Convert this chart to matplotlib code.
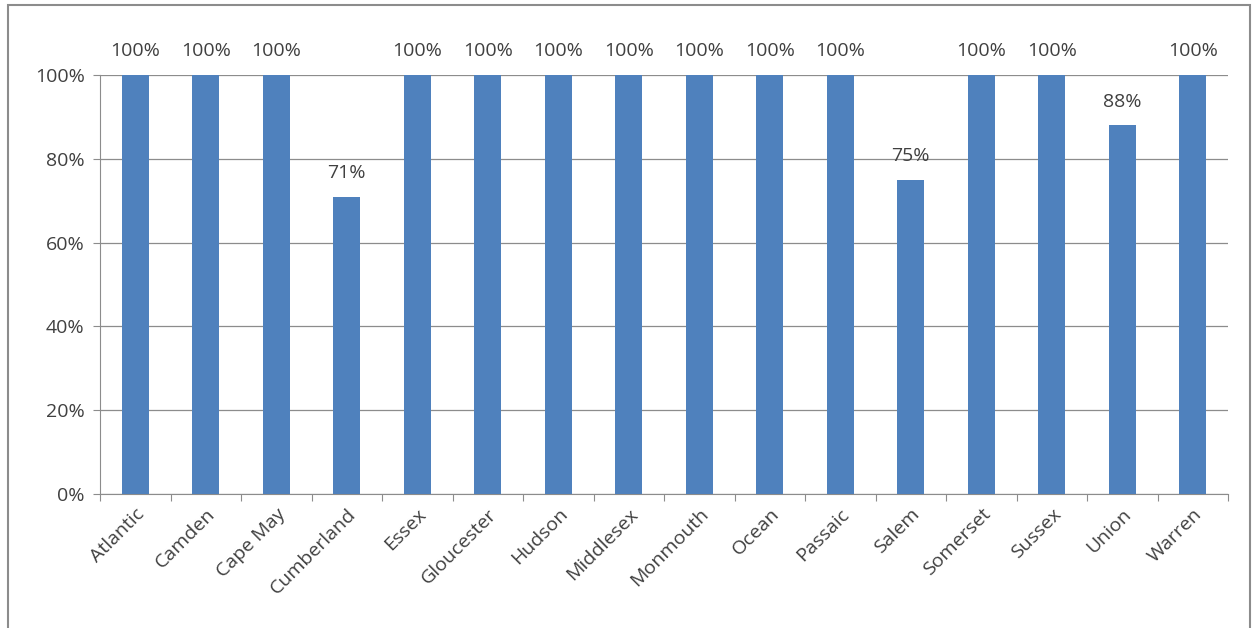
import matplotlib.pyplot as plt
from matplotlib.patches import Rectangle
from matplotlib.ticker import FuncFormatter

counties = ['Atlantic', 'Camden', 'Cape May', 'Cumberland', 'Essex', 'Gloucester',
            'Hudson', 'Middlesex', 'Monmouth', 'Ocean', 'Passaic', 'Salem',
            'Somerset', 'Sussex', 'Union', 'Warren']
pct = [100, 100, 100, 71, 100, 100, 100, 100, 100, 100, 100, 75, 100, 100, 88, 100]

plt.rcParams['font.family'] = ['Open Sans', 'DejaVu Sans']
txt = '#404040'

fig = plt.figure(figsize=(12.55, 6.28), dpi=100)
# outer chart frame
fig.patches.append(Rectangle((8 / 1255, -0.01), 1242 / 1255, 1 - 5 / 628 + 0.01,
                             transform=fig.transFigure, fill=False,
                             edgecolor='#8c8c8c', linewidth=1.5))

ax = fig.add_axes([100 / 1255, (628 - 494) / 628, 1128 / 1255, (494 - 75) / 628])
x = range(len(counties))
ax.bar(x, pct, width=0.38, color='#4F81BD', zorder=3)
for i, v in enumerate(pct):
    ax.text(i, v + 3.5, f'{v}%', ha='center', va='bottom', fontsize=14, color=txt)

ax.set_xlim(-0.5, len(counties) - 0.5)
ax.set_ylim(0, 100)
ax.set_yticks(range(0, 101, 20))
ax.yaxis.set_major_formatter(FuncFormatter(lambda v, p: f'{v:.0f}%'))
ax.grid(axis='y', color='#8c8c8c', linewidth=0.9, zorder=0)

ax.set_xticks([i - 0.5 for i in range(len(counties) + 1)], minor=False)
ax.set_xticklabels([])
ax.set_xticks(list(x), minor=True)
ax.set_xticklabels(counties, minor=True, rotation=45, ha='right',
                   rotation_mode='anchor', fontsize=14, color=txt)
ax.tick_params(axis='x', which='major', length=5, color='#8c8c8c')
ax.tick_params(axis='x', which='minor', length=0, pad=8)
ax.tick_params(axis='y', length=5, color='#8c8c8c', labelsize=14, labelcolor=txt, pad=6)

for s in ['top', 'right']:
    ax.spines[s].set_visible(False)
ax.spines['left'].set_color('#8c8c8c')
ax.spines['bottom'].set_color('#8c8c8c')

fig.savefig('out.png', dpi=100)
